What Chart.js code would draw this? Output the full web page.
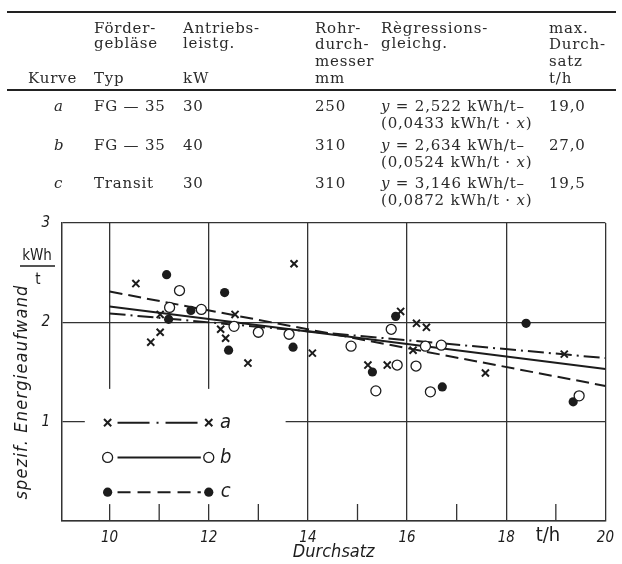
<!DOCTYPE html>
<html><head><meta charset="utf-8">
<script src="https://cdn.jsdelivr.net/npm/chart.js@4/dist/chart.umd.min.js"></script>
<style>
html,body{margin:0;padding:0;background:#fff;}
#wrap{position:relative;width:622px;height:564px;overflow:hidden;background:#fff;}
#c{position:absolute;left:0;top:0;}
.t{position:absolute;font-family:'DejaVu Serif','Liberation Serif',serif;font-size:15px;color:#2a2a2a;letter-spacing:0.8px;white-space:nowrap;line-height:16px;}
.rule{position:absolute;left:7px;width:609px;height:2px;background:#222;}
</style></head>
<body><div id="wrap"><canvas id="c" width="622" height="564"></canvas><div id="tbl"></div></div>
<script>
// ---------- table content ----------
const curveNames   = ['a', 'b', 'c'];
const blowerTypes  = ['FG — 35', 'FG — 35', 'Transit'];
const drivePowers  = ['30', '40', '30'];
const pipeDiams    = ['250', '310', '310'];
const regLine1     = ['2,522', '2,634', '3,146'];
const regLine2     = ['0,0433', '0,0524', '0,0872'];
const maxThroughput= ['19,0', '27,0', '19,5'];

// ---------- chart data ----------
const xTickValues  = [10, 11, 12, 13, 14, 15, 16, 17, 18, 19, 20];
const xLabeled     = [10, 12, 14, 16, 18, 20];
const minorTicks   = [11, 13, 15, 17, 19];
const yTickValues  = [0, 1, 2, 3];

const pointsA = [[10.53,2.39],[11.02,2.08],[11.02,1.90],[10.83,1.80],[13.72,2.59],[12.53,2.08],
  [12.24,1.93],[12.34,1.84],[12.79,1.59],[14.09,1.69],[15.87,2.11],[16.19,1.99],[16.39,1.95],
  [16.12,1.72],[15.21,1.57],[15.60,1.57],[17.58,1.49],[19.17,1.68]];
const pointsB = [[11.41,2.32],[11.21,2.15],[11.85,2.13],[12.51,1.96],[13.00,1.90],[13.62,1.88],
  [15.68,1.93],[14.87,1.76],[16.37,1.76],[16.69,1.77],[15.80,1.57],[16.18,1.56],[15.37,1.31],
  [16.47,1.30],[19.47,1.26]];
const pointsC = [[11.15,2.48],[11.64,2.12],[11.19,2.03],[12.32,2.30],[12.40,1.72],[13.70,1.75],
  [15.77,2.06],[15.30,1.50],[16.71,1.35],[18.40,1.99],[19.35,1.20]];

const lineA = [[10,2.09],[20,1.64]];
const lineB = [[10,2.16],[20,1.53]];
const lineC = [[10,2.31],[20,1.36]];

// ---------- build table ----------
const tbl = document.getElementById('tbl');
function txt(x, y, html) {
  const d = document.createElement('div');
  d.className = 't';
  d.style.left = x + 'px';
  d.style.top = (y - 8) + 'px';
  d.innerHTML = html;
  tbl.appendChild(d);
}
function rule(y) { const d = document.createElement('div'); d.className = 'rule'; d.style.top = (y - 1) + 'px'; tbl.appendChild(d); }
rule(12); rule(90);
const cK = 28, cT = 94, cP = 183, cD = 315, cR = 381, cM = 549;
txt(cK, 78, 'Kurve');
txt(cT, 28, 'Förder-'); txt(cT, 43, 'gebläse'); txt(cT, 78, 'Typ');
txt(cP, 28, 'Antriebs-'); txt(cP, 43, 'leistg.'); txt(cP, 78, 'kW');
txt(cD, 28, 'Rohr-'); txt(cD, 44, 'durch-'); txt(cD, 61, 'messer'); txt(cD, 78, 'mm');
txt(cR, 28, 'Règressions-'); txt(cR, 43, 'gleichg.');
txt(cM, 28, 'max.'); txt(cM, 44, 'Durch-'); txt(cM, 61, 'satz'); txt(cM, 78, 't/h');
const rowY = [106, 145, 183];
curveNames.forEach((n, i) => {
  const y = rowY[i];
  txt(54, y, '<i>' + n + '</i>');
  txt(cT, y, blowerTypes[i]);
  txt(cP, y, drivePowers[i]);
  txt(cD, y, pipeDiams[i]);
  txt(cR, y, '<i>y</i> = ' + regLine1[i] + ' kWh/t–');
  txt(cR, y + 17, '(' + regLine2[i] + ' kWh/t · <i>x</i>)');
  txt(cM, y, maxThroughput[i]);
});

// ---------- chart ----------
const FONT = "'DejaVu Sans Condensed','DejaVu Sans',sans-serif";
const INK = '#1c1c1c';
const toXY = arr => arr.map(p => ({x: p[0], y: p[1]}));

const decor = {
  id: 'decor',
  beforeDatasetsDraw(chart) {
    const {ctx, chartArea: ca, scales: {x, y}} = chart;
    ctx.save();
    const l = x.getPixelForValue(9.5), r = x.getPixelForValue(13.55);
    const t = y.getPixelForValue(1.33), b = y.getPixelForValue(0.17);
    ctx.fillStyle = '#fff';
    ctx.fillRect(l, t, r - l, b - t);
    ctx.strokeStyle = '#333'; ctx.lineWidth = 1.3;
    minorTicks.forEach(v => {
      const px = x.getPixelForValue(v);
      ctx.beginPath(); ctx.moveTo(px, ca.bottom); ctx.lineTo(px, ca.bottom - 17); ctx.stroke();
    });
    ctx.restore();
  },
  afterDraw(chart) {
    const {ctx, scales: {x, y}} = chart;
    ctx.save();
    ctx.fillStyle = INK; ctx.strokeStyle = INK;
    const rows = [0.99, 0.64, 0.29];
    const mx = [9.96, 12.0];
    const lx0 = x.getPixelForValue(10.16), lx1 = x.getPixelForValue(11.84);
    const dashes = [[32, 7, 2, 7], [], [13, 7]];
    rows.forEach((rv, i) => {
      const py = y.getPixelForValue(rv);
      ctx.lineWidth = 2; ctx.setLineDash(dashes[i]);
      ctx.beginPath(); ctx.moveTo(lx0, py); ctx.lineTo(lx1, py); ctx.stroke();
      ctx.setLineDash([]);
      mx.forEach(v => {
        const px = x.getPixelForValue(v);
        if (i === 0) {
          ctx.lineWidth = 2; const s = 3.6;
          ctx.beginPath(); ctx.moveTo(px - s, py - s); ctx.lineTo(px + s, py + s);
          ctx.moveTo(px + s, py - s); ctx.lineTo(px - s, py + s); ctx.stroke();
        } else if (i === 1) {
          ctx.lineWidth = 1.3; ctx.fillStyle = '#fff';
          ctx.beginPath(); ctx.arc(px, py, 5, 0, Math.PI * 2); ctx.fill(); ctx.stroke();
          ctx.fillStyle = INK;
        } else {
          ctx.beginPath(); ctx.arc(px, py, 4.6, 0, Math.PI * 2); ctx.fill();
        }
      });
      ctx.font = 'italic 20px ' + FONT;
      ctx.textAlign = 'center'; ctx.textBaseline = 'middle';
      ctx.fillText(curveNames[i], x.getPixelForValue(12.34), py);
    });
    ctx.font = '20px ' + FONT;
    ctx.textAlign = 'center'; ctx.textBaseline = 'middle';
    ctx.fillText('t/h', 548, 536);
    ctx.save();
    ctx.translate(22, 392);
    ctx.rotate(-Math.PI / 2);
    ctx.font = 'italic 18px ' + FONT;
    try { ctx.letterSpacing = '1.2px'; } catch (e) {}
    ctx.fillText('spezif. Energieaufwand', 0, 0);
    ctx.restore();
    ctx.font = '15px ' + FONT;
    ctx.fillText('kWh', 37, 256);
    ctx.fillText('t', 38, 280);
    ctx.lineWidth = 1.3;
    ctx.beginPath(); ctx.moveTo(20, 266); ctx.lineTo(55, 266); ctx.stroke();
    ctx.restore();
  }
};

new Chart(document.getElementById('c'), {
  type: 'scatter',
  data: {
    datasets: [
      {label: 'a', data: toXY(pointsA), pointStyle: 'crossRot', pointRadius: 5, borderWidth: 2,
       borderColor: INK, backgroundColor: INK, order: 1},
      {label: 'b', data: toXY(pointsB), pointStyle: 'circle', pointRadius: 5, borderWidth: 1.3,
       borderColor: INK, backgroundColor: '#fff', order: 1},
      {label: 'c', data: toXY(pointsC), pointStyle: 'circle', pointRadius: 4.6, borderWidth: 0,
       borderColor: INK, backgroundColor: INK, order: 1},
      {type: 'line', label: 'Regression a', data: toXY(lineA), borderColor: INK, borderWidth: 2,
       borderDash: [16, 5, 2, 5], pointRadius: 0, fill: false, order: 2},
      {type: 'line', label: 'Regression b', data: toXY(lineB), borderColor: INK, borderWidth: 2,
       pointRadius: 0, fill: false, order: 2},
      {type: 'line', label: 'Regression c', data: toXY(lineC), borderColor: INK, borderWidth: 2,
       borderDash: [13, 6], pointRadius: 0, fill: false, order: 2}
    ]
  },
  options: {
    responsive: false,
    animation: false,
    devicePixelRatio: 1,
    layout: {padding: {left: 0, right: 14, top: 223, bottom: 0}},
    plugins: {legend: {display: false}, tooltip: {enabled: false}},
    scales: {
      x: {
        type: 'linear', min: 9.04, max: 20,
        afterFit(s) { s.height = 43; },
        afterBuildTicks(s) { s.ticks = xTickValues.map(v => ({value: v})); },
        grid: {color: c => (c.tick && c.tick.value % 2 === 0) ? '#333' : 'rgba(0,0,0,0)', lineWidth: 1.3, drawTicks: false},
        border: {display: true, color: '#333', width: 1.5},
        ticks: {callback: v => xLabeled.includes(v) ? String(v) : '', autoSkip: false, maxRotation: 0,
                font: {family: FONT, size: 15, style: 'italic'}, color: INK, padding: 8},
        title: {display: true, text: 'Durchsatz', font: {family: FONT, size: 18, style: 'italic'}, color: INK,
                padding: {top: 0, bottom: 1}}
      },
      y: {
        type: 'linear', min: 0, max: 3,
        afterFit(s) { s.width = 62; },
        afterBuildTicks(s) { s.ticks = yTickValues.map(v => ({value: v})); },
        grid: {color: '#333', lineWidth: 1.3, drawTicks: false},
        border: {display: true, color: '#333', width: 1.5},
        ticks: {callback: v => v === 0 ? '' : String(v), font: {family: FONT, size: 15, style: 'italic'},
                color: INK, padding: 12}
      }
    }
  },
  plugins: [decor]
});
</script>
</body></html>
